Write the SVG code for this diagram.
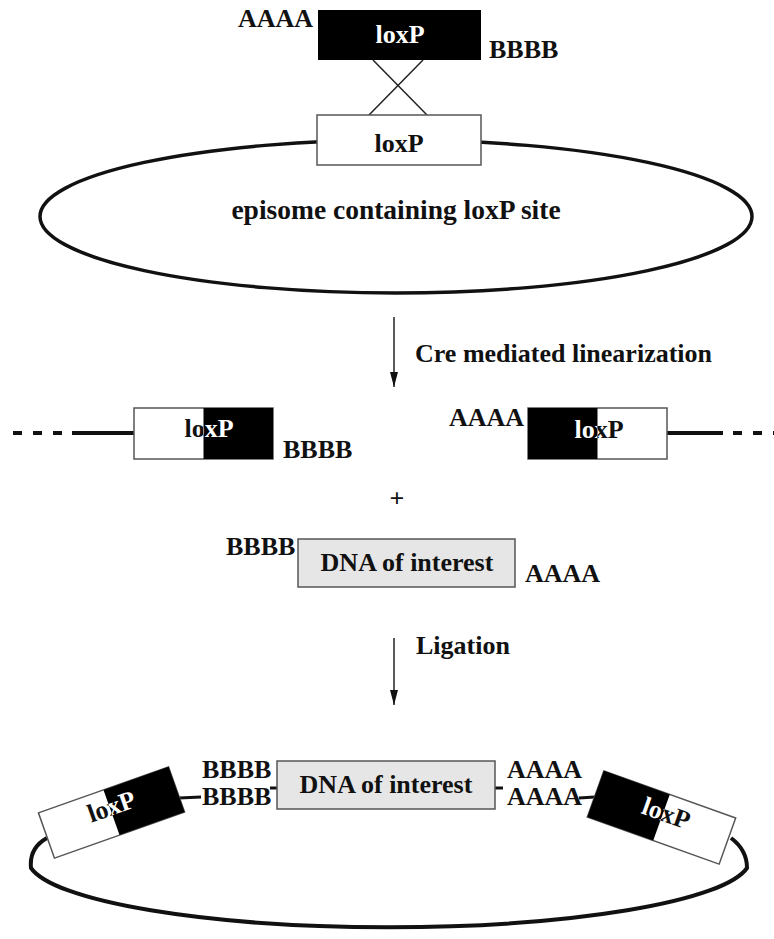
<svg xmlns="http://www.w3.org/2000/svg" width="774" height="939" viewBox="0 0 774 939">
  <style>
    .t{font-family:"Liberation Serif","Times New Roman",serif;font-weight:bold;font-size:26px;fill:#111}
    .c{text-anchor:middle}
    .w{fill:#fff}
    .thin{stroke:#222;stroke-width:1.5;fill:none}
    .dna{stroke:#111;stroke-width:4;fill:none}
    .box{stroke:#555;stroke-width:1.5}
    .link{stroke:#111;stroke-width:3;fill:none}
  </style>
  <defs>
    <marker id="head" markerUnits="userSpaceOnUse" markerWidth="15" markerHeight="8" refX="15" refY="4" orient="auto">
      <path d="M0,0 L15,4 L0,8 z" fill="#111"/>
    </marker>
    <!-- halves of a split loxP box, in the box's own coordinates -->
    <clipPath id="leftHalf" clipPathUnits="userSpaceOnUse"><rect x="-90" y="-40" width="90" height="80"/></clipPath>
    <clipPath id="rightHalf" clipPathUnits="userSpaceOnUse"><rect x="0" y="-40" width="90" height="80"/></clipPath>
  </defs>

  <!-- ===== top: incoming loxP and episome ===== -->
  <g id="episome">
    <ellipse cx="396" cy="216.5" rx="356" ry="76.5" fill="none" stroke="#111" stroke-width="3.5"/>
    <text class="t c" x="396" y="219" style="font-size:27.5px">episome containing loxP site</text>
  </g>

  <g id="connectors">
    <!-- crossover between the two loxP sites -->
    <line class="thin" x1="373" y1="60" x2="427" y2="115"/>
    <line class="thin" x1="423" y1="60" x2="369" y2="115"/>
    <!-- reaction arrows -->
    <line class="thin" x1="394" y1="317" x2="394" y2="387" marker-end="url(#head)"/>
    <line class="thin" x1="394" y1="638" x2="394" y2="705" marker-end="url(#head)"/>
    <!-- linearized episome arms -->
    <line class="dna" x1="13" y1="433" x2="66" y2="433" stroke-dasharray="9 11"/>
    <line class="dna" x1="72" y1="433" x2="134" y2="433"/>
    <line class="dna" x1="667" y1="433" x2="723" y2="433"/>
    <line class="dna" x1="733" y1="433" x2="774" y2="433" stroke-dasharray="9 11"/>
    <!-- recircularized episome backbone -->
    <path class="dna" stroke-width="3.5" d="M47 838 Q29 848 31 868 A 361 68 0 0 0 747 868 Q747 850 731 838"/>
    <!-- ligation junctions -->
    <line class="link" x1="179" y1="798" x2="201" y2="797"/>
    <line class="link" x1="270" y1="788" x2="278" y2="788"/>
    <line class="link" x1="494" y1="788" x2="503" y2="788"/>
    <line class="link" x1="579" y1="798" x2="595" y2="797"/>
  </g>

  <g id="loxP-incoming">
    <rect x="318" y="10" width="163" height="50" fill="#000"/>
    <text class="t c w" x="400" y="43">loxP</text>
  </g>
  <text class="t" x="238" y="27">AAAA</text>
  <text class="t" x="489" y="58">BBBB</text>

  <g id="loxP-episome">
    <rect class="box" x="317" y="115" width="164" height="50" fill="#fff"/>
    <text class="t c" x="399" y="152">loxP</text>
  </g>

  <!-- ===== middle: after Cre linearization ===== -->
  <text class="t" x="415" y="362">Cre mediated linearization</text>

  <g id="loxP-left-end" transform="translate(203.5,433.5)">
    <rect class="box" x="-69.5" y="-25.5" width="139" height="51" fill="#fff"/>
    <rect x="0" y="-25.5" width="69.5" height="51" fill="#000"/>
    <text class="t c" x="5.5" y="3.5" clip-path="url(#leftHalf)">loxP</text>
    <text class="t c w" x="5.5" y="3.5" clip-path="url(#rightHalf)">loxP</text>
  </g>
  <text class="t" x="283" y="458">BBBB</text>

  <text class="t" x="449" y="426">AAAA</text>
  <g id="loxP-right-end" transform="translate(597.5,433.5)">
    <rect class="box" x="-69.5" y="-25.5" width="139" height="51" fill="#fff"/>
    <rect x="-69.5" y="-25.5" width="69.5" height="51" fill="#000"/>
    <text class="t c w" x="1.5" y="4.5" clip-path="url(#leftHalf)">loxP</text>
    <text class="t c" x="1.5" y="4.5" clip-path="url(#rightHalf)">loxP</text>
  </g>

  <text class="t c" x="397" y="507">+</text>

  <g id="insert">
    <rect class="box" x="298" y="539" width="217" height="48" fill="#e6e6e6" stroke="#444" stroke-width="2"/>
    <text class="t c" x="407" y="571">DNA of interest</text>
  </g>
  <text class="t" x="226" y="555">BBBB</text>
  <text class="t" x="525" y="582">AAAA</text>

  <text class="t" x="416" y="654">Ligation</text>

  <!-- ===== bottom: recircularized product ===== -->
  <g id="loxP-product-left" transform="translate(111.5,812.5) rotate(-19.5)">
    <rect class="box" x="-69" y="-24" width="138" height="48" fill="#fff"/>
    <rect x="0" y="-24" width="69" height="48" fill="#000"/>
    <text class="t c" x="2" y="3" clip-path="url(#leftHalf)">loxP</text>
    <text class="t c w" x="2" y="3" clip-path="url(#rightHalf)">loxP</text>
  </g>

  <g id="insert-product">
    <rect class="box" x="277" y="761" width="218" height="48" fill="#e6e6e6" stroke="#444" stroke-width="2"/>
    <text class="t c" x="386" y="793">DNA of interest</text>
  </g>
  <text class="t" x="202" y="778">BBBB</text>
  <text class="t" x="202" y="805">BBBB</text>
  <text class="t" x="507" y="778">AAAA</text>
  <text class="t" x="507" y="805">AAAA</text>

  <g id="loxP-product-right" transform="translate(661.5,817.5) rotate(19.7)">
    <rect class="box" x="-70" y="-24.5" width="140" height="49" fill="#fff"/>
    <rect x="-70" y="-24.5" width="70" height="49" fill="#000"/>
    <text class="t c w" x="3" y="3" clip-path="url(#leftHalf)">loxP</text>
    <text class="t c" x="3" y="3" clip-path="url(#rightHalf)">loxP</text>
  </g>
</svg>
